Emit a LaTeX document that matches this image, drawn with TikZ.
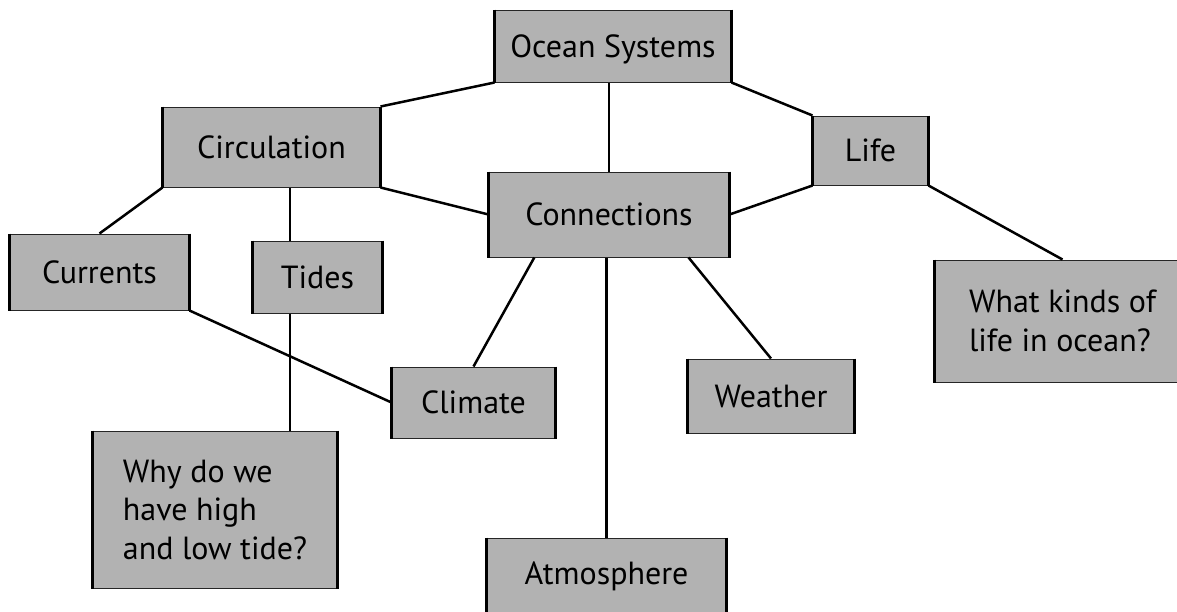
\documentclass[tikz,border=0pt]{standalone}
\usepackage{fontspec}
\setmainfont{PT Sans}
\usetikzlibrary{calc}

\begin{document}
\begin{tikzpicture}[x=1pt,y=-1pt,
  topic/.style={draw=black!85,line width=1pt,fill=black!30,inner sep=0pt,
    font=\fontsize{32}{38.5}\selectfont},
  oneline/.style={topic,text height=22.5pt,text depth=0pt},
  link/.style={line width=2.5pt}]
  \useasboundingbox (0,0) rectangle (1177,611);
  % instantiate nodes
  \node[oneline,minimum width=236,minimum height=72] (OS) at (613,46) {Ocean Systems};
  \node[oneline,minimum width=217,minimum height=80] (Circ) at (271.5,147) {Circulation};
  \node[oneline,minimum width=179,minimum height=76] (Curr) at (99.5,272) {Currents};
  \node[oneline,minimum width=129,minimum height=72] (Tides) at (317.5,277) {Tides};
  \node[oneline,minimum width=240,minimum height=85] (Conn) at (609,214.5) {Connections};
  \node[oneline,minimum width=115,minimum height=69] (Life) at (870.5,150.5) {Life};
  \node[topic,align=left,minimum width=255,minimum height=122] (What) at (1062.5,321) {What kinds of\\life in ocean?};
  \node[oneline,minimum width=163,minimum height=71] (Clim) at (473.5,402.5) {Climate};
  \node[oneline,minimum width=166,minimum height=74] (Weath) at (771,396) {Weather};
  \node[oneline,text depth=10.5pt,minimum width=239,minimum height=80] (Atm) at (606.5,578) {Atmosphere};
  \node[topic,align=left,minimum width=244,minimum height=157] (Why) at (215,509.5) {Why do we\\have high\\and low tide?};
  % thick side edges
  \foreach \n in {OS,Circ,Curr,Tides,Conn,Life,What,Clim,Weath,Atm,Why}
    \draw[line width=3pt] (\n.north west) -- (\n.south west) (\n.north east) -- (\n.south east);
  % connectors
  \coordinate (TX) at ($(Tides.north west)!0.29!(Tides.north east)$);
  \draw[link] (OS.south west) -- (Circ.north east);
  \draw[link] (OS.south east) -- (Life.north west);
  \draw[link] (Conn.north |- OS.south) -- (Conn.north);
  \draw[link] (Circ.south east) -- (Conn.west);
  \draw[link] (Conn.east) -- (Life.south west);
  \draw[link] (Circ.south west) -- (Curr.north);
  \draw[link] (TX |- Circ.south) -- (TX);
  \draw[link] (Tides.south -| TX) -- (Why.north -| TX);
  \draw[link] (Curr.south east) -- (Clim.west);
  \draw[link] ($(Conn.south west)!0.19!(Conn.south east)$) -- (Clim.north);
  \draw[link] (Atm.north |- Conn.south) -- (Atm.north);
  \draw[link] ($(Conn.south west)!0.83!(Conn.south east)$) -- (Weath.north);
  \draw[link] (Life.south east) -- (What.north);
\end{tikzpicture}
\end{document}
